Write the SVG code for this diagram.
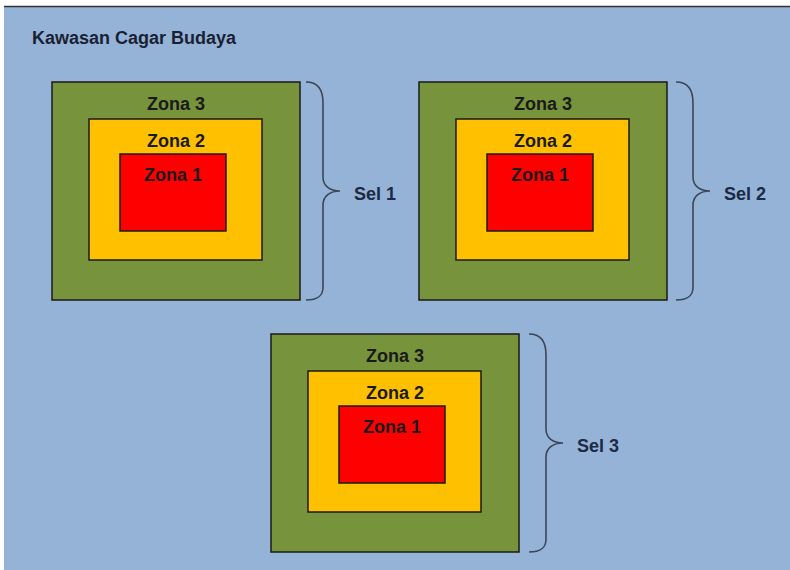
<svg xmlns="http://www.w3.org/2000/svg" width="790" height="570" viewBox="0 0 790 570">
<style>
.z3{fill:#77933c;stroke:#1a1a1a;stroke-width:1.5}
.z2{fill:#ffc000;stroke:#1a1a1a;stroke-width:1.5}
.z1{fill:#ff0000;stroke:#1a1a1a;stroke-width:1.5}
.zt{font-family:"Liberation Sans",Arial,sans-serif;font-weight:bold;font-size:18px;fill:#1a1a1a;text-anchor:middle}
.brace{fill:none;stroke:#3b4656;stroke-width:1.6}
.sel{font-family:"Liberation Sans",Arial,sans-serif;font-weight:bold;font-size:18px;fill:#1c2a45}
</style>
<rect x="0" y="0" width="790" height="570" fill="#ffffff"/>
<rect x="4" y="7" width="786" height="563" fill="#95b3d7"/>
<line x1="4" y1="6.5" x2="790" y2="6.5" stroke="#333" stroke-width="1.5"/>
<text x="32" y="44" class="sel" style="fill:#1a1f33">Kawasan Cagar Budaya</text>
<defs>
<g id="set">
<rect class="z3" x="0" y="0" width="248" height="218"/>
<rect class="z2" x="37" y="37" width="173" height="141"/>
<rect class="z1" x="68" y="72" width="106" height="77"/>
</g>
<path id="br" d="M0,0 C12,0 17,8 17,21 L17,95 C17,104 24,109 34,109 C24,109 17,114 17,123 L17,205 C17,214 12,218 0,218"/>
</defs>
<g id="sel1">
<use href="#set" x="52" y="82"/>
<text class="zt" x="176" y="110">Zona 3</text>
<text class="zt" x="176" y="147">Zona 2</text>
<text class="zt" x="173" y="181">Zona 1</text>
</g>
<g id="sel2">
<use href="#set" x="419" y="82"/>
<text class="zt" x="543" y="110">Zona 3</text>
<text class="zt" x="543" y="147">Zona 2</text>
<text class="zt" x="540" y="181">Zona 1</text>
</g>
<g id="sel3">
<use href="#set" x="271" y="334"/>
<text class="zt" x="395" y="362">Zona 3</text>
<text class="zt" x="395" y="399">Zona 2</text>
<text class="zt" x="392" y="433">Zona 1</text>
</g>
<g id="connectors">
<use href="#br" class="brace" x="306" y="82"/>
<use href="#br" class="brace" x="676" y="82"/>
<use href="#br" class="brace" x="529" y="334"/>
</g>
<text class="sel" x="354" y="200">Sel 1</text>
<text class="sel" x="724" y="200">Sel 2</text>
<text class="sel" x="577" y="452">Sel 3</text>
</svg>
